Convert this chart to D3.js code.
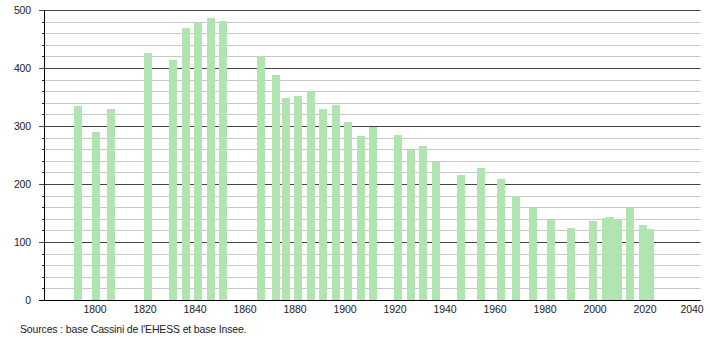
<!DOCTYPE html>
<html lang="fr">
<head>
    <meta charset="UTF-8">
    <title>Population</title>
    <script src="https://cdn.jsdelivr.net/npm/d3@7"></script>
    <style>
        body{ margin:0; background:#fff; }
        .lbl{ font-family:"Liberation Sans", Arial, sans-serif; font-size:10.5px; letter-spacing:-0.15px; fill:#222; }
    </style>
</head>
<body>
<svg id="main" width="710" height="340"></svg>
<script>
    // census years and population
    const years = [1793, 1800, 1806, 1821, 1831, 1836, 1841, 1846, 1851, 1866, 1872, 1876, 1881,
                   1886, 1891, 1896, 1901, 1906, 1911, 1921, 1926, 1931, 1936, 1946, 1954, 1962,
                   1968, 1975, 1982, 1990, 1999, 2004, 2006, 2009, 2014, 2019, 2022];
    const population = [335, 290, 329, 426, 414, 469, 478, 486, 481, 421, 388, 348, 352,
                        360, 329, 336, 307, 283, 298, 284, 258, 265, 238, 215, 227, 208,
                        179, 158, 138, 125, 136, 141, 143, 140, 158, 129, 122];
    const xTicks = [1800, 1820, 1840, 1860, 1880, 1900, 1920, 1940, 1960, 1980, 2000, 2020, 2040];
    const yTicks = [0, 100, 200, 300, 400, 500];
    const source = "Sources : base Cassini de l'EHESS et base Insee.";

    let svg = d3.select('svg#main');
    let plot = {left: 44, right: 700.5, top: 10, bottom: 300};

    let xScale = d3.scaleLinear().domain([1779.6, 2042.2]).range([plot.left, plot.right]);
    let yScale = d3.scaleLinear().domain([0, 500]).range([plot.bottom, plot.top]);

    // minor grid every 20
    let minor = d3.range(20, 500, 20).filter(v => v % 100 != 0);
    svg.append('g').selectAll('line')
        .data(minor).enter().append('line')
        .attr('x1', plot.left - 2).attr('x2', plot.right)
        .attr('y1', d => Math.round(yScale(d)) + 0.5)
        .attr('y2', d => Math.round(yScale(d)) + 0.5)
        .attr('stroke', '#c8c8c8');
    // little black ticks on the axis for minor steps
    svg.append('g').selectAll('line')
        .data(minor).enter().append('line')
        .attr('x1', plot.left - 2).attr('x2', plot.left)
        .attr('y1', d => Math.round(yScale(d)) + 0.5)
        .attr('y2', d => Math.round(yScale(d)) + 0.5)
        .attr('stroke', '#222');

    // major grid
    svg.append('g').selectAll('line')
        .data(yTicks).enter().append('line')
        .attr('x1', plot.left - 5).attr('x2', plot.right)
        .attr('y1', d => Math.round(yScale(d)) + 0.5)
        .attr('y2', d => Math.round(yScale(d)) + 0.5)
        .attr('stroke', d => d == 0 ? '#000' : '#444');

    // bars
    svg.append('g').selectAll('rect')
        .data(years).enter().append('rect')
        .attr('x', d => Math.round(xScale(d) - 3.5))
        .attr('width', 8)
        .attr('y', (d, i) => Math.round(yScale(population[i])))
        .attr('height', (d, i) => Math.round(yScale(0)) - Math.round(yScale(population[i])))
        .attr('fill', '#b2e4b2');

    // redraw baseline above bars
    svg.append('line')
        .attr('x1', plot.left - 5).attr('x2', plot.right)
        .attr('y1', Math.round(yScale(0)) + 0.5).attr('y2', Math.round(yScale(0)) + 0.5)
        .attr('stroke', '#000');

    // y axis line
    svg.append('line')
        .attr('x1', plot.left + 0.5).attr('x2', plot.left + 0.5)
        .attr('y1', plot.top).attr('y2', plot.bottom + 0.5)
        .attr('stroke', '#000');

    // y labels
    svg.append('g').selectAll('text')
        .data(yTicks).enter().append('text')
        .attr('class', 'lbl')
        .attr('x', 31)
        .attr('y', d => yScale(d))
        .attr('dy', '0.35em')
        .attr('text-anchor', 'end')
        .text(d => d);

    // x labels
    svg.append('g').selectAll('text')
        .data(xTicks).enter().append('text')
        .attr('class', 'lbl')
        .attr('x', d => Math.min(xScale(d), 692))
        .attr('y', 312.5)
        .attr('text-anchor', 'middle')
        .text(d => d);

    svg.append('text')
        .attr('class', 'lbl')
        .attr('x', 20)
        .attr('y', 332.5)
        .text(source);
</script>
</body>
</html>
